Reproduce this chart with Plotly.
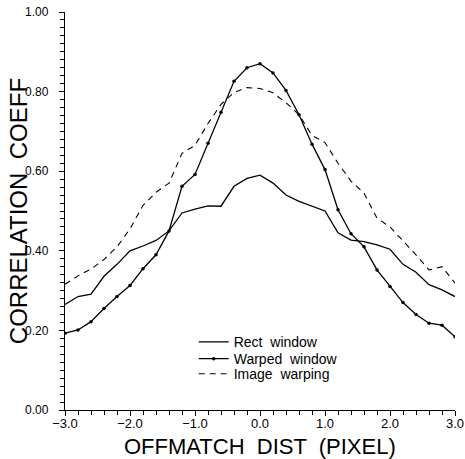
import plotly.graph_objects as go

x_vals = [-3.0, -2.8, -2.6, -2.4, -2.2, -2.0, -1.8, -1.6, -1.4, -1.2, -1.0,
          -0.8, -0.6, -0.4, -0.2, 0.0, 0.2, 0.4, 0.6, 0.8, 1.0,
          1.2, 1.4, 1.6, 1.8, 2.0, 2.2, 2.4, 2.6, 2.8, 3.0]

rect_window = [0.265, 0.285, 0.291, 0.336, 0.366, 0.400, 0.412, 0.426, 0.450, 0.495, 0.505,
               0.513, 0.512, 0.562, 0.582, 0.590, 0.570, 0.540, 0.524, 0.513, 0.500,
               0.445, 0.427, 0.423, 0.415, 0.404, 0.366, 0.346, 0.315, 0.302, 0.285]

warped_window = [0.193, 0.201, 0.222, 0.255, 0.285, 0.313, 0.355, 0.390, 0.450, 0.562, 0.592,
                 0.670, 0.748, 0.826, 0.860, 0.870, 0.847, 0.803, 0.742, 0.668, 0.604,
                 0.503, 0.443, 0.410, 0.352, 0.310, 0.270, 0.240, 0.218, 0.213, 0.184]

image_warping = [0.316, 0.337, 0.354, 0.378, 0.410, 0.455, 0.514, 0.547, 0.570, 0.645, 0.665,
                 0.720, 0.768, 0.798, 0.810, 0.808, 0.797, 0.772, 0.742, 0.690, 0.672,
                 0.620, 0.575, 0.545, 0.482, 0.460, 0.425, 0.390, 0.352, 0.360, 0.319]

x_tick_vals = [-3.0, -2.0, -1.0, 0.0, 1.0, 2.0, 3.0]
x_tick_text = ["\u22123.0", "\u22122.0", "\u22121.0", "0.0", "1.0", "2.0", "3.0"]
y_tick_vals = [0.0, 0.2, 0.4, 0.6, 0.8, 1.0]
y_tick_text = ["0.00", "0.20", "0.40", "0.60", "0.80", "1.00"]

FONT = "Liberation Sans"

fig = go.Figure()
fig.add_trace(go.Scatter(x=x_vals, y=rect_window, mode="lines", name="Rect  window",
                         line=dict(color="black", width=1.3), legend="legend"))
fig.add_trace(go.Scatter(x=x_vals, y=warped_window, mode="lines+markers", name="Warped  window",
                         line=dict(color="black", width=1.3),
                         marker=dict(color="black", size=3.5), legend="legend2"))
fig.add_trace(go.Scatter(x=x_vals, y=image_warping, mode="lines", name="Image  warping",
                         line=dict(color="black", width=1.1, dash="6px,5px"), legend="legend3"))

leg_common = dict(x=0.33, xanchor="left", yanchor="middle",
                  bgcolor="rgba(0,0,0,0)", font=dict(size=14, family=FONT, color="black"),
                  itemwidth=30)

fig.update_layout(
    width=465, height=459,
    margin=dict(l=65, r=10, t=12, b=49, autoexpand=False),
    paper_bgcolor="white", plot_bgcolor="white",
    font=dict(family=FONT, color="black"),
    showlegend=True,
    legend=dict(y=0.170, **leg_common),
    legend2=dict(y=0.128, **leg_common),
    legend3=dict(y=0.090, **leg_common),
    xaxis=dict(range=[-3.0, 3.0], showgrid=False, zeroline=False, automargin=False,
               showline=True, linecolor="black", linewidth=1.3,
               ticks="outside", ticklen=5, tickwidth=1.2, tickcolor="black",
               tickmode="array", tickvals=x_tick_vals, ticktext=x_tick_text,
               tickfont=dict(size=13, family=FONT), ticklabelstandoff=-4,
               ticklabeloverflow="allow",
               minor=dict(tickmode="linear", tick0=0, dtick=0.2, ticks="outside",
                          ticklen=4, tickwidth=1, tickcolor="black")),
    yaxis=dict(range=[0.0, 1.0], showgrid=False, zeroline=False, automargin=False,
               showline=True, linecolor="black", linewidth=1.3,
               ticks="outside", ticklen=5, tickwidth=1.2, tickcolor="black",
               tickmode="array", tickvals=y_tick_vals, ticktext=y_tick_text,
               tickfont=dict(size=12, family=FONT), ticklabelstandoff=8,
               ticklabeloverflow="allow",
               minor=dict(tickmode="linear", tick0=0, dtick=0.02, ticks="outside",
                          ticklen=4, tickwidth=1, tickcolor="black")),
)

fig.add_annotation(text="CORRELATION  COEFF", xref="paper", yref="paper",
                   x=-0.12, y=0.5, xanchor="center", yanchor="middle",
                   textangle=-90, showarrow=False,
                   font=dict(size=24, family=FONT, color="black"))
fig.add_annotation(text="OFFMATCH  DIST  (PIXEL)", xref="paper", yref="paper",
                   x=0.5, y=-0.092, xanchor="center", yanchor="middle",
                   showarrow=False,
                   font=dict(size=22, family=FONT, color="black"))

fig.write_html("out.html", config={"displayModeBar": False},
               post_script="document.body.style.margin='0px';")
